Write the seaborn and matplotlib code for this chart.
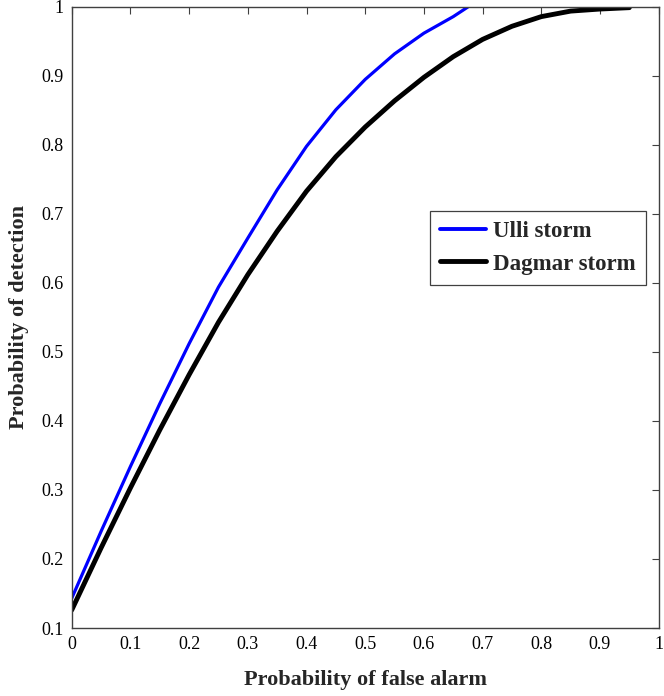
import matplotlib
matplotlib.use("Agg")
import matplotlib.pyplot as plt
from matplotlib.lines import Line2D
import pandas as pd
import seaborn as sns

# ROC curves
ulli_pf = [0.0, 0.05, 0.1, 0.15, 0.2, 0.25, 0.3, 0.35, 0.4, 0.45, 0.5, 0.55, 0.6, 0.65, 0.675]
ulli_pd = [0.143, 0.24, 0.334, 0.425, 0.512, 0.594, 0.665, 0.735, 0.798, 0.851, 0.895,
           0.932, 0.962, 0.986, 1.0]

dagmar_pf = [0.0, 0.05, 0.1, 0.15, 0.2, 0.25, 0.3, 0.35, 0.4, 0.45, 0.5,
             0.55, 0.6, 0.65, 0.7, 0.75, 0.8, 0.85, 0.9, 0.95]
dagmar_pd = [0.126, 0.216, 0.303, 0.387, 0.467, 0.543, 0.612, 0.675, 0.733, 0.783, 0.826,
             0.864, 0.898, 0.928, 0.953, 0.972, 0.986, 0.994, 0.997, 0.999]

x_ticks = [0, 0.1, 0.2, 0.3, 0.4, 0.5, 0.6, 0.7, 0.8, 0.9, 1]
y_ticks = [0.1, 0.2, 0.3, 0.4, 0.5, 0.6, 0.7, 0.8, 0.9, 1]
tick_labels_x = ["0", "0.1", "0.2", "0.3", "0.4", "0.5", "0.6", "0.7", "0.8", "0.9", "1"]
tick_labels_y = ["0.1", "0.2", "0.3", "0.4", "0.5", "0.6", "0.7", "0.8", "0.9", "1"]

df = pd.concat([
    pd.DataFrame({"pf": ulli_pf, "pd": ulli_pd, "storm": "Ulli storm"}),
    pd.DataFrame({"pf": dagmar_pf, "pd": dagmar_pd, "storm": "Dagmar storm"}),
])

sns.set_theme(style="white")
plt.rcParams['font.family'] = ['Liberation Serif', 'DejaVu Serif']

fig = plt.figure(figsize=(6.64, 6.96), dpi=100)
ax = fig.add_axes([0.108, 0.0977, 0.884, 0.8923])

sns.lineplot(data=df, x="pf", y="pd", hue="storm", sort=False,
             palette={"Ulli storm": "#0000ff", "Dagmar storm": "black"},
             ax=ax, legend=False)
ax.lines[0].set_linewidth(2.3)
ax.lines[1].set_linewidth(3.5)

ax.set_xlim(0, 1)
ax.set_ylim(0.1, 1)
ax.set_xticks(x_ticks)
ax.set_xticklabels(tick_labels_x)
ax.set_yticks(y_ticks)
ax.set_yticklabels(tick_labels_y)
ax.tick_params(direction="in", length=5, width=0.8, color="#404040",
               top=True, right=True, labelsize=13, labelcolor="black", pad=6)

for sp in ax.spines.values():
    sp.set_visible(True)
    sp.set_color("#404040")
    sp.set_linewidth(1.0)

ax.set_xlabel("Probability of false alarm", fontsize=16, fontweight="bold", labelpad=12)
ax.set_ylabel("Probability of detection", fontsize=16, fontweight="bold", labelpad=9)

handles = [Line2D([], [], color="#0000ff", lw=2.8),
           Line2D([], [], color="black", lw=3.5)]
leg = ax.legend(handles, ["Ulli storm", "Dagmar storm"], loc="upper left",
                bbox_to_anchor=(0.61, 0.672), fancybox=False, framealpha=1,
                edgecolor="#404040", handlelength=2.0, handletextpad=0.3,
                borderpad=0.45, labelspacing=0.5, borderaxespad=0,
                prop={"family": "Liberation Serif", "weight": "bold", "size": 16.5})
leg.get_frame().set_linewidth(0.9)

fig.savefig("out.png", dpi=100)
